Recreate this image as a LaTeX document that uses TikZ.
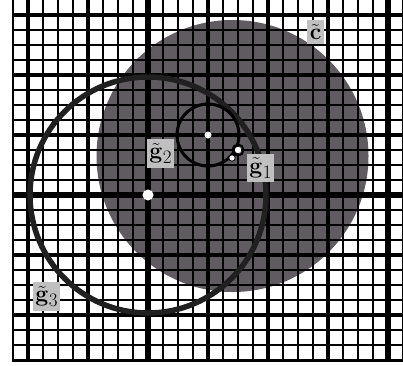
\documentclass[tikz,border=0pt]{standalone}
\usepackage{fix-cm}
\definecolor{discgray}{RGB}{96,91,96}
\definecolor{labelgray}{RGB}{192,192,192}
\definecolor{ringdark}{RGB}{32,32,32}
\newcommand{\bigsub}[1]{\raisebox{-5pt}{\fontsize{19}{22}\selectfont #1}}
\begin{document}
\begin{tikzpicture}[x=1pt,y=-1pt,
  lbl/.style={fill=labelgray, inner xsep=2.5pt, inner ysep=4pt, font=\fontsize{23}{28}\selectfont},
  thinline/.style={line width=1.7pt, black},
  midline/.style={line width=3.6pt, black},
  heavyline/.style={line width=6pt, black},
  wdot/.style={fill=white}]
\useasboundingbox (0,0) rectangle (403,365);
\fill[white] (0,0) rectangle (403,365);
% disc
\fill[discgray] (232.5,156) circle[radius=136pt];
% grid
\foreach \x in {13,28,...,403} \draw[thinline] (\x,0) -- (\x,361);
\foreach \y in {15,30,...,360} \draw[thinline] (13,\y) -- (403,\y);
\foreach \x in {28,88,...,388} \draw[midline] (\x,0) -- (\x,361);
\foreach \y in {15,75,...,315} \draw[midline] (13,\y) -- (403,\y);
\foreach \x in {148,388} \draw[heavyline] (\x,0) -- (\x,361);
\draw[heavyline] (13,195) -- (403,195);
\draw[line width=2.4pt] (13,0) -- (13,361) -- (403,361);
% circles
\draw[ringdark, line width=5.5pt] (148,195) circle[radius=118pt];
\draw[black, line width=3pt] (208,135) circle[radius=31pt];
% dots
\coordinate (o3) at (148,195);
\coordinate (o0) at (208,135);
\coordinate (p1) at (238,150);
\coordinate (p2) at (232,158);
\fill[wdot] (o3) circle[radius=5.5pt];
\fill[wdot] (o0) circle[radius=3.5pt];
\draw[black, line width=2pt] (p1) circle[radius=5.5pt];
\draw[black, line width=3pt] (p1) -- (p2);
\filldraw[fill=white, draw=black, line width=0.8pt] (p2) circle[radius=3.2pt];
\fill[wdot] (p1) circle[radius=3.2pt];
% labels
\node[lbl] (c) at (315.5,32) {$\tilde{\mathbf{c}}$};
\node[lbl] (g1) at (260.5,168) {$\tilde{\mathbf{g}}$\bigsub{1}};
\node[lbl] (g2) at (160.5,153.5) {$\tilde{\mathbf{g}}$\bigsub{2}};
\node[lbl] (g3) at (46.5,296.5) {$\tilde{\mathbf{g}}$\bigsub{3}};
\end{tikzpicture}
\end{document}
